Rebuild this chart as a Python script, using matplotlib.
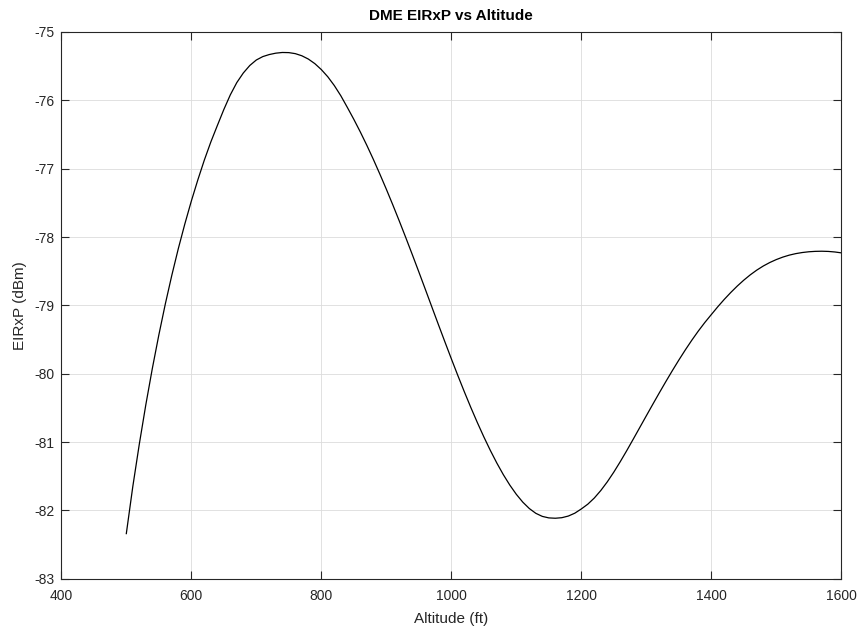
import matplotlib
matplotlib.use("Agg")
import matplotlib.pyplot as plt

altitude_ft = [500, 510, 520, 530, 540, 550, 560, 570, 580, 590,
               600, 610, 620, 630, 640, 650, 660, 670, 680, 690,
               700, 710, 720, 730, 740, 750, 760, 770, 780, 790,
               800, 810, 820, 830, 840, 850, 860, 870, 880, 890,
               900, 910, 920, 930, 940, 950, 960, 970, 980, 990,
               1000, 1010, 1020, 1030, 1040, 1050, 1060, 1070, 1080, 1090,
               1100, 1110, 1120, 1130, 1140, 1150, 1160, 1170, 1180, 1190,
               1200, 1210, 1220, 1230, 1240, 1250, 1260, 1270, 1280, 1290,
               1300, 1310, 1320, 1330, 1340, 1350, 1360, 1370, 1380, 1390,
               1400, 1410, 1420, 1430, 1440, 1450, 1460, 1470, 1480, 1490,
               1500, 1510, 1520, 1530, 1540, 1550, 1560, 1570, 1580, 1590,
               1600]
eirxp_dbm = [-82.34, -81.65, -81.03, -80.455, -79.925, -79.435, -78.98, -78.56, -78.17, -77.81,
             -77.475, -77.165, -76.875, -76.61, -76.37, -76.135, -75.92, -75.74, -75.60, -75.49,
             -75.41, -75.36, -75.33, -75.31, -75.30, -75.302, -75.317, -75.348, -75.396, -75.463,
             -75.55, -75.656, -75.784, -75.933, -76.103, -76.278, -76.463, -76.658, -76.863, -77.078,
             -77.30, -77.53, -77.767, -78.01, -78.258, -78.51, -78.765, -79.022, -79.278, -79.531,
             -79.781, -80.026, -80.264, -80.494, -80.714, -80.924, -81.122, -81.307, -81.477, -81.63,
             -81.765, -81.88, -81.973, -82.043, -82.088, -82.11, -82.115, -82.107, -82.083, -82.041,
             -81.979, -81.909, -81.819, -81.709, -81.582, -81.44, -81.286, -81.124, -80.956, -80.786,
             -80.616, -80.447, -80.28, -80.116, -79.956, -79.801, -79.652, -79.51, -79.376, -79.251,
             -79.135, -79.02, -78.912, -78.811, -78.717, -78.631, -78.553, -78.484, -78.424, -78.373,
             -78.33, -78.294, -78.265, -78.243, -78.227, -78.216, -78.21, -78.208, -78.211, -78.219,
             -78.232]

x_ticks = [400, 600, 800, 1000, 1200, 1400, 1600]
y_ticks = [-83, -82, -81, -80, -79, -78, -77, -76, -75]

plt.rcParams['font.family'] = ['Liberation Sans', 'DejaVu Sans']
plt.rcParams['axes.unicode_minus'] = False

fig = plt.figure(figsize=(8.66, 6.32), dpi=100)
ax = fig.add_axes([0.0708, 0.0843, 0.9007, 0.8651])

ax.plot(altitude_ft, eirxp_dbm, color='black', lw=0.9, solid_joinstyle='round')

ax.set_xlim(400, 1600)
ax.set_ylim(-83, -75)
ax.set_xticks(x_ticks)
ax.set_yticks(y_ticks)
ax.set_xticklabels([str(v) for v in x_ticks])
ax.set_yticklabels([str(v) for v in y_ticks])

axc = '#262626'
for s in ax.spines.values():
    s.set_color(axc)
    s.set_linewidth(0.8)
ax.tick_params(direction='in', length=5.8, width=0.8, colors=axc,
               labelsize=10, top=True, right=True)
ax.tick_params(axis='x', pad=7.5)
ax.tick_params(axis='y', pad=5)
ax.grid(True, color='#dcdcdc', lw=0.6)
ax.set_axisbelow(True)

ax.set_title('DME EIRxP vs Altitude', fontsize=11, fontweight='bold', color='black', pad=8.5)
ax.set_xlabel('Altitude (ft)', fontsize=11, color=axc, labelpad=6.5)
ax.set_ylabel('EIRxP (dBm)', fontsize=11, color=axc, labelpad=5.2)

fig.savefig('out.png', dpi=100)
